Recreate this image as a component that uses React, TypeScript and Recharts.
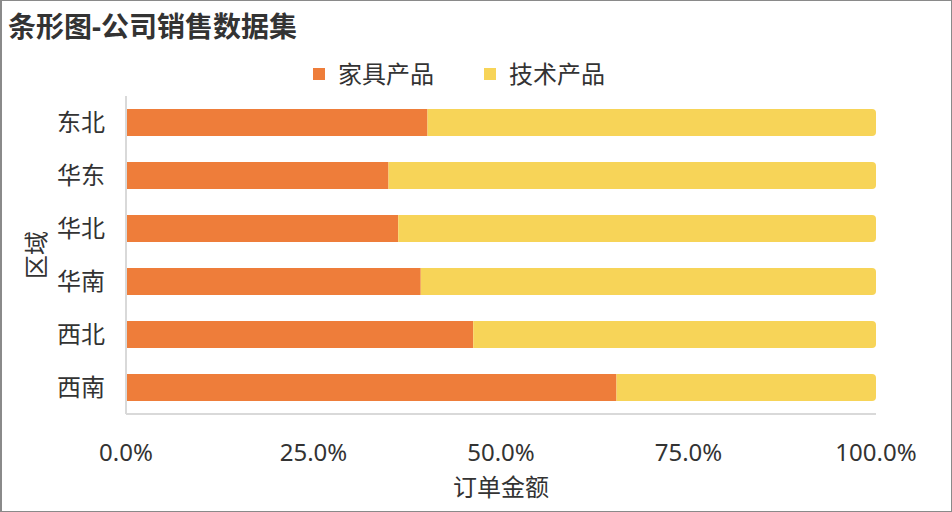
import React from "react";
import { BarChart, Bar, XAxis, YAxis, Label } from "recharts";

const regions = ["东北", "华东", "华北", "华南", "西北", "西南"];
const furniture = [40.2, 35.0, 36.3, 39.3, 46.3, 65.4];
const technology = [59.8, 65.0, 63.7, 60.7, 53.7, 34.6];
const xTicks = [0, 0.25, 0.5, 0.75, 1];
const seriesNames = ["家具产品", "技术产品"];
const colors = ["#EE7D3A", "#F7D458"];

const data = regions.map((r, i) => ({
  region: r,
  furniture: furniture[i],
  technology: technology[i],
}));

const FONT = '"Noto Sans", "Noto Sans CJK SC", sans-serif';

export default function App() {
  return (
    <div
      style={{
        position: "absolute",
        left: 0,
        top: 0,
        width: 952,
        height: 512,
        background: "#fff",
        fontFamily: FONT,
      }}
    >
      <BarChart
        width={952}
        height={512}
        data={data}
        layout="vertical"
        stackOffset="expand"
        margin={{ top: 96, right: 76, bottom: 38, left: 26 }}
        barSize={27}
      >
        <XAxis
          type="number"
          domain={[0, 1]}
          ticks={xTicks}
          tickFormatter={(v: number) => (v * 100).toFixed(1) + "%"}
          axisLine={{ stroke: "#d9d9d9", strokeWidth: 2 }}
          tickLine={false}
          tickSize={0}
          tickMargin={30}
          height={60}
          tick={{ fill: "#333", fontSize: 24, fontFamily: FONT }}
          interval={0}
        >
          <Label
            value="订单金额"
            position="insideBottom"
            offset={-22}
            style={{ fill: "#333", fontSize: 24, fontFamily: FONT }}
          />
        </XAxis>
        <YAxis
          type="category"
          dataKey="region"
          width={100}
          axisLine={{ stroke: "#d9d9d9", strokeWidth: 2 }}
          tickLine={false}
          tickSize={0}
          tickMargin={21}
          tick={{ fill: "#333", fontSize: 24, fontFamily: FONT }}
          interval={0}
        >
          <Label
            value="区域"
            angle={-90}
            position="insideLeft"
            offset={10}
            style={{ fill: "#333", fontSize: 24, fontFamily: FONT, textAnchor: "middle" }}
          />
        </YAxis>
        <Bar
          dataKey="furniture"
          name={seriesNames[0]}
          stackId="a"
          fill={colors[0]}
          isAnimationActive={false}
        />
        <Bar
          dataKey="technology"
          name={seriesNames[1]}
          stackId="a"
          fill={colors[1]}
          radius={[0, 4, 4, 0]}
          isAnimationActive={false}
        />
      </BarChart>
      <div
        style={{
          position: "absolute",
          left: 8,
          top: 8,
          fontSize: 28,
          fontWeight: "bold",
          color: "#333",
          lineHeight: "36px",
          fontFamily: FONT,
        }}
      >
        条形图-公司销售数据集
      </div>
      <div
        style={{
          position: "absolute",
          top: 58,
          left: 0,
          width: 952,
          display: "flex",
          justifyContent: "center",
          fontSize: 24,
          color: "#333",
          lineHeight: "32px",
        }}
      >
        {seriesNames.map((n, i) => (
          <div
            key={n}
            style={{
              display: "flex",
              alignItems: "center",
              marginLeft: i === 0 ? 0 : 50,
              position: "relative",
              left: -17,
            }}
          >
            <span
              style={{
                display: "inline-block",
                width: 12,
                height: 12,
                background: colors[i],
                marginRight: 13,
              }}
            />
            <span>{n}</span>
          </div>
        ))}
      </div>
      <div
        style={{
          position: "absolute",
          left: 0,
          top: 0,
          width: 952,
          height: 512,
          boxSizing: "border-box",
          border: "1px solid #8a8a8a",
          borderLeftWidth: 2,
          pointerEvents: "none",
        }}
      />
    </div>
  );
}
